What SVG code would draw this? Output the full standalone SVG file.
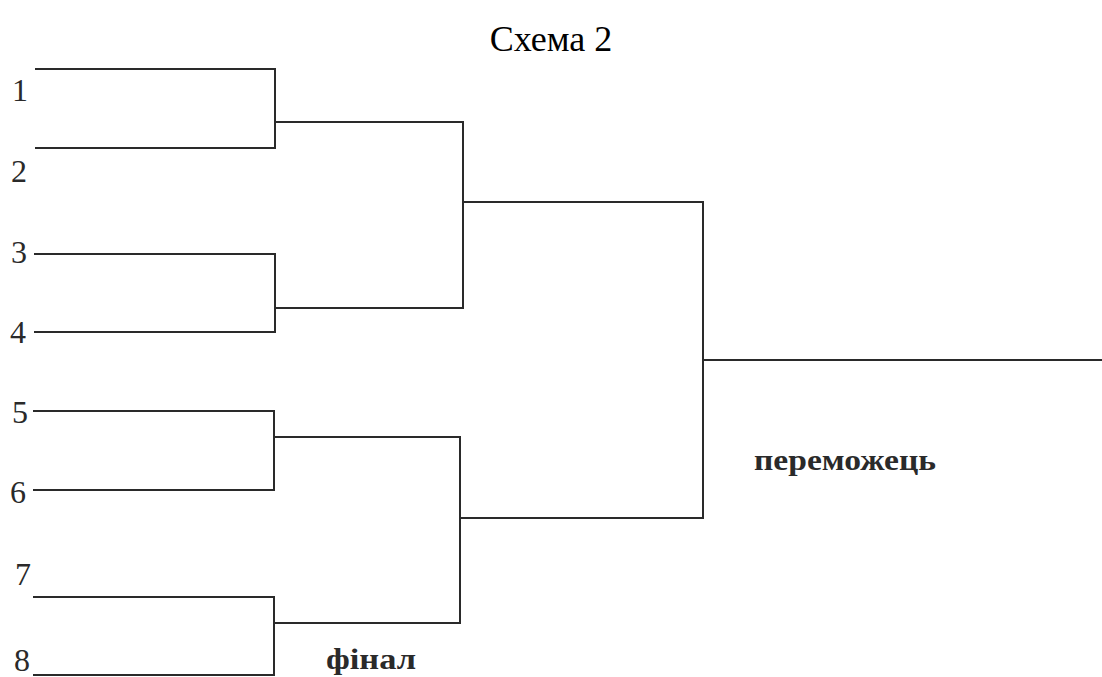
<svg xmlns="http://www.w3.org/2000/svg" width="1102" height="677" viewBox="0 0 1102 677">
<style>
.ln{fill:none;stroke:#2a2a2a;stroke-width:2;stroke-linecap:square}
.num{font-family:"Liberation Serif",serif;font-size:32px;fill:#2a2a2a}
.lbl{font-family:"Liberation Serif",serif;font-size:30px;font-weight:bold;fill:#2a2a2a}
.ttl{font-family:"Liberation Serif",serif;font-size:36px;fill:#000}
</style>
<rect width="1102" height="677" fill="#fff"/>
<text class="ttl" x="551" y="51" text-anchor="middle">Схема 2</text>
<g id="n1"><text class="num" x="12" y="101">1</text></g>
<g id="n2"><text class="num" x="11" y="182">2</text></g>
<g id="n3"><text class="num" x="11" y="263">3</text></g>
<g id="n4"><text class="num" x="10" y="343">4</text></g>
<g id="n5"><text class="num" x="12" y="423">5</text></g>
<g id="n6"><text class="num" x="10" y="503">6</text></g>
<g id="n7"><text class="num" x="15" y="585">7</text></g>
<g id="n8"><text class="num" x="14" y="671">8</text></g>
<g id="winner"><text class="lbl" x="754" y="470" textLength="182" lengthAdjust="spacingAndGlyphs">переможець</text></g>
<g id="final"><text class="lbl" x="326" y="669" textLength="90" lengthAdjust="spacingAndGlyphs">фінал</text></g>
<g id="connectors">
<path class="ln" d="M36 69H275V148H36M275 122H463"/>
<path class="ln" d="M35 254H275V332H35M275 308H463"/>
<path class="ln" d="M463 122V308M463 202H703"/>
<path class="ln" d="M34 411H274V490H34M274 437H460"/>
<path class="ln" d="M34 597H274V675H34M274 623H460"/>
<path class="ln" d="M460 437V623M460 518H703"/>
<path class="ln" d="M703 202V518M703 360H1102"/>
</g>
</svg>
